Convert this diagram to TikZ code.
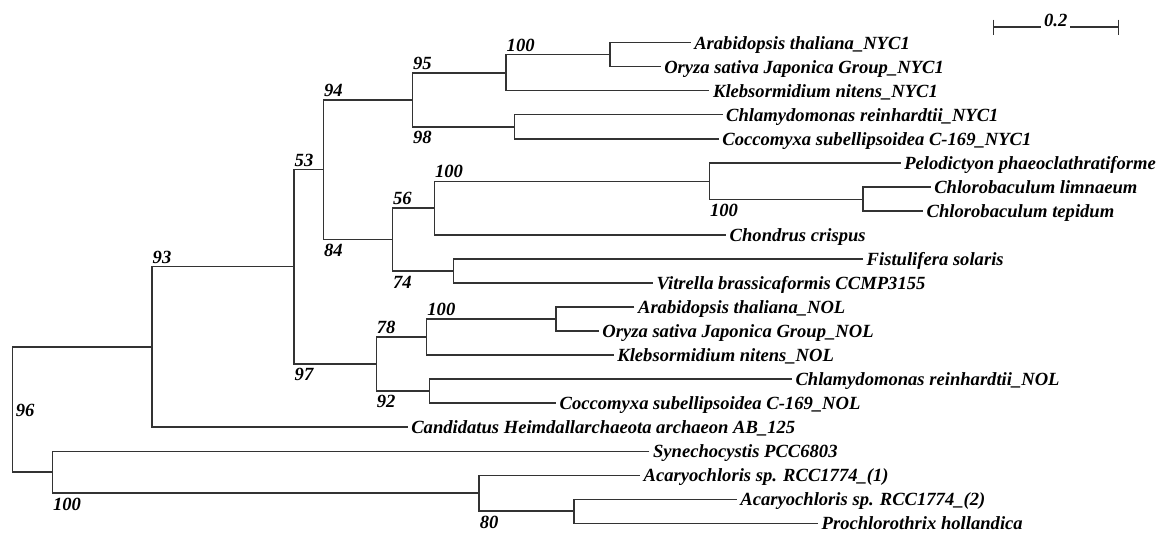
\documentclass[tikz,border=0pt]{standalone}
\usepackage{fontspec}
\setmainfont{Liberation Serif}
\usetikzlibrary{calc}

\begin{document}
\begin{tikzpicture}[x=1pt,y=-1pt,line width=1.4pt,draw=black!80,
    every node/.style={inner sep=0pt,font=\fontsize{18.6}{20}\selectfont\bfseries\itshape},
    taxon/.style={anchor=base west,xshift=3pt,yshift=-6.5pt},
    bsup/.style={anchor=base west,yshift=3.5pt},
    bsdn/.style={anchor=base west,yshift=-17pt}]
  \useasboundingbox(0,0)rectangle(1168,536);
  % tips: name / x / row / taxon
  \foreach \n/\x/\r/\t in {
      arabN/690.6/0/Arabidopsis thaliana\_NYC1,
      oryzaN/660.6/1/Oryza sativa Japonica Group\_NYC1,
      klebsN/709.4/2/Klebsormidium nitens\_NYC1,
      chlamyN/722.5/3/Chlamydomonas reinhardtii\_NYC1,
      coccoN/718.7/4/Coccomyxa subellipsoidea C-169\_NYC1,
      pelod/900.6/5/Pelodictyon phaeoclathratiforme,
      limn/930.6/6/Chlorobaculum limnaeum,
      tepid/923/7/Chlorobaculum tepidum,
      chond/726/8/Chondrus crispus,
      fistul/863/9/Fistulifera solaris,
      vitr/653/10/Vitrella brassicaformis CCMP3155,
      arabL/634.4/11/Arabidopsis thaliana\_NOL,
      oryzaL/598.7/12/Oryza sativa Japonica Group\_NOL,
      klebsL/613.7/13/Klebsormidium nitens\_NOL,
      chlamyL/791.8/14/Chlamydomonas reinhardtii\_NOL,
      coccoL/556/15/Coccomyxa subellipsoidea C-169\_NOL,
      cand/407.6/16/Candidatus Heimdallarchaeota archaeon AB\_125,
      synech/649.4/17/Synechocystis PCC6803,
      acOne/640/18/Acaryochloris sp. RCC1774\_(1),
      acTwo/736.7/19/Acaryochloris sp. RCC1774\_(2),
      prochl/818/20/Prochlorothrix hollandica}
    {\coordinate(\n)at(\x,42.7+24.03*\r);
     \node[taxon](l\n)at(\n){\t};}
  % inner nodes
  \coordinate(nAO)at(610,54.7);
  \coordinate(nAOK)at(506,72.8);
  \coordinate(nCC)at(514.3,126.8);
  \coordinate(nNYC)at(412.3,99.8);
  \coordinate(nChl)at(863,199.3);
  \coordinate(nPel)at(709.4,181.3);
  \coordinate(nRed)at(434.4,208);
  \coordinate(nFV)at(453.5,271);
  \coordinate(nRF)at(392.3,239.5);
  \coordinate(nA)at(323.4,169.6);
  \coordinate(nAON)at(556,318.9);
  \coordinate(nAOKN)at(426.7,336.9);
  \coordinate(nCCN)at(429.4,390.9);
  \coordinate(nNOL)at(376.2,363.9);
  \coordinate(nB)at(294,266.7);
  \coordinate(nE)at(152,346.8);
  \coordinate(nAP)at(574,511);
  \coordinate(nAcy)at(479.1,493);
  \coordinate(nCy)at(52.4,471.9);
  \coordinate(root)at(12.2,409.4);
  % branches: upper child / node / lower child
  \foreach \a/\p/\b in {arabN/nAO/oryzaN,nAO/nAOK/klebsN,chlamyN/nCC/coccoN,
      nAOK/nNYC/nCC,limn/nChl/tepid,pelod/nPel/nChl,nPel/nRed/chond,
      fistul/nFV/vitr,nRed/nRF/nFV,nNYC/nA/nRF,arabL/nAON/oryzaL,
      nAON/nAOKN/klebsL,chlamyL/nCCN/coccoL,nAOKN/nNOL/nCCN,nA/nB/nNOL,
      nB/nE/cand,acTwo/nAP/prochl,acOne/nAcy/nAP,synech/nCy/nAcy,nE/root/nCy}
    \draw(\a)-|(\p)|-(\b);
  % bootstrap values
  \foreach \p/\c/\s/\v in {nAOK/nAO/bsup/100,nNYC/nAOK/bsup/95,nNYC/nCC/bsdn/98,
      nA/nNYC/bsup/94,nA/nRF/bsdn/84,nRed/nPel/bsup/100,nPel/nChl/bsdn/100,
      nRF/nRed/bsup/56,nRF/nFV/bsdn/74,nB/nA/bsup/53,nE/nB/bsup/93,
      nB/nNOL/bsdn/97,nNOL/nAOKN/bsup/78,nNOL/nCCN/bsdn/92,nAOKN/nAON/bsup/100,
      nCy/nAcy/bsdn/100,nAcy/nAP/bsdn/80}
    \node[\s](s\c)at(\p|-\c){\v};
  \node[anchor=base west,xshift=3pt,yshift=-7.5pt](sroot)at(root){96};
  % scale bar
  \coordinate(sbl)at(993.3,27);
  \coordinate(sbr)at(1118.3,27);
  \node[anchor=base,inner sep=2pt,yshift=1pt](sbt)at($(sbl)!.5!(sbr)$){0.2};
  \draw(sbl)--(sbt.west|-sbl) (sbt.east|-sbl)--(sbr)
    (sbl)++(0,-7.5)--++(0,15) (sbr)++(0,-7.5)--++(0,15);
\end{tikzpicture}
\end{document}
